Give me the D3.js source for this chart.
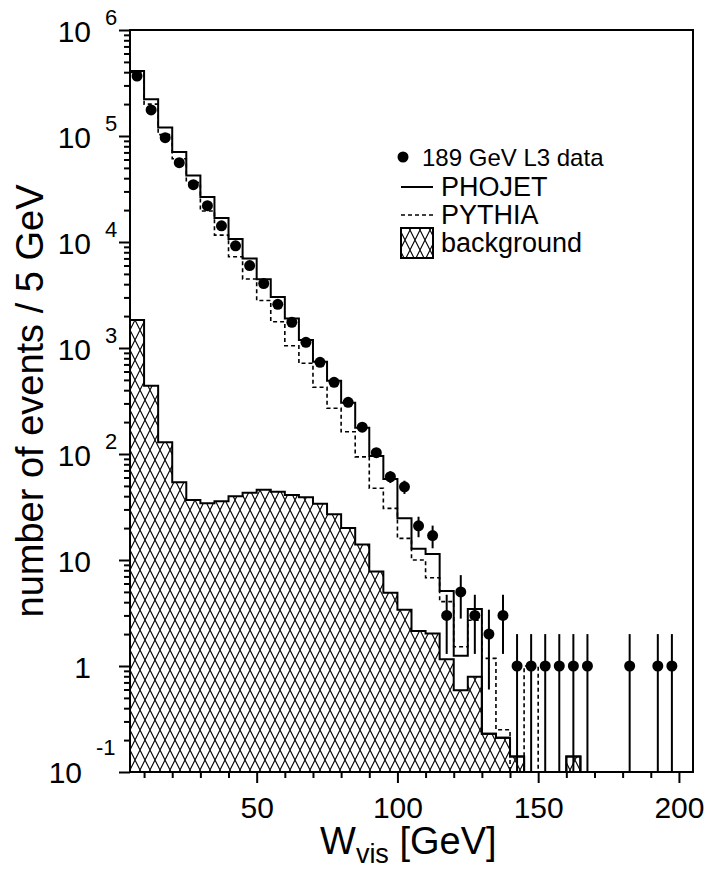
<!DOCTYPE html>
<html>
<head>
<meta charset="utf-8">
<script src="https://cdn.jsdelivr.net/npm/d3@7/dist/d3.min.js"></script>
<style>
  body { margin: 0; background: #fff; }
  text { font-family: "Liberation Sans", Arial, Helvetica, sans-serif; fill: #000; }
</style>
</head>
<body>
<script>
// lower edge of each 5 GeV bin
let binLow = [5, 10, 15, 20, 25, 30, 35, 40, 45, 50, 55, 60, 65, 70, 75, 80, 85, 90, 95, 100,
  105, 110, 115, 120, 125, 130, 135, 140, 145, 150, 155, 160, 165, 170, 175, 180, 185, 190, 195, 200];
let binWidth = 5;

// 189 GeV L3 data (events / bin) and their errors
let dataVals = [368000, 176000, 96400, 56000, 34700, 22000, 14200, 9200, 6000, 4060,
  2580, 1750, 1130, 733, 475, 307, 179, 103, 61, 49,
  21, 17, 3, 5, 3, 2, 3, 1, 1, 1,
  1, 1, 1, 0, 0, 1, 0, 1, 1, 0];
let dataErr = [600, 420, 310, 240, 186, 148, 119, 96, 77, 64,
  51, 42, 34, 27, 22, 18, 13, 10, 7.8, 7,
  4.6, 4.1, 1.7, 2.2, 1.7, 1.4, 1.7, 1, 1, 1,
  1, 1, 1, 0, 0, 1, 0, 1, 1, 0];

// PHOJET (solid)
let phojetVals = [410000, 222000, 120000, 70600, 42400, 26600, 16800, 10700, 7000, 4450,
  3030, 1900, 1190, 743, 492, 305, 177, 96, 58, 24.7,
  12.8, 11.4, 5.1, 1.25, 3.45, 0.23, 0.21, 0.14, 0, 0,
  0, 0.14, 0, 0, 0, 0, 0, 0, 0, 0];

// PYTHIA (dashed)
let pythiaVals = [398000, 200000, 103000, 61000, 36300, 19600, 11600, 7260, 4480, 2810,
  1770, 1050, 717, 426, 270, 162, 94, 47.5, 30.7, 16,
  10, 6.8, 4.05, 1.52, 2.7, 1.18, 0.25, 0, 1, 0,
  0, 0, 0, 0, 0, 0, 0, 0, 0, 0];

// background (hatched)
let bkgVals = [1840, 441, 129, 54, 36.8, 34.3, 35.8, 40, 43, 46,
  44, 41, 39, 34, 27, 20, 14, 7.8, 4.9, 3.4,
  2.14, 2.03, 1.16, 0.59, 0.79, 0.23, 0.21, 0.14, 0, 0,
  0, 0.14, 0, 0, 0, 0, 0, 0, 0, 0];

let xMajorTicks = [50, 100, 150, 200];
let yTickVals = [1e6, 1e5, 1e4, 1e3, 1e2, 10, 1, 0.1];
let yTickBase = ["10", "10", "10", "10", "10", "10", "1", "10"];
let yTickExp = ["6", "5", "4", "3", "2", "", "", "-1"];
let legendLabels = ["189 GeV L3 data", "PHOJET", "PYTHIA", "background"];

let margin = null,
  width = null,
  height = null;

let svg = null;
let x, y = null; // scales

main();

function main() {
  setupCanvasSize();
  appendSvg("body");
  setupXScale();
  setupYScale();
  addPattern();
  appendBackground();
  appendHistogram(pythiaVals, "4,3", 1.6);
  appendHistogram(phojetVals, null, 2);
  addDataPoints();
  appendXAxis();
  appendYAxis();
  addFrame();
  addLegend();
  addTitles();
}

function setupCanvasSize() {
  margin = { top: 30, left: 130, bottom: 99, right: 15 };
  width = 708 - margin.left - margin.right;
  height = 871 - margin.top - margin.bottom;
}

function appendSvg(domElement) {
  let root = d3.select(domElement).append("svg")
    .attr("width", width + margin.left + margin.right)
    .attr("height", height + margin.top + margin.bottom);
  root.append("defs");
  svg = root.append("g")
    .attr("transform", `translate(${margin.left}, ${margin.top})`);
}

function setupXScale() {
  x = d3.scaleLinear()
    .range([0, width])
    .domain([5, 205]);
}

function setupYScale() {
  y = d3.scaleLog()
    .range([height, 0])
    .domain([0.1, 1e6]);
}

// values below the axis floor sit on the frame
function yv(v) {
  return v > 0.1 ? y(v) : height;
}

function stepPoints(vals) {
  let pts = [[binLow[0], 0]];
  vals.forEach(function (v, i) { pts.push([binLow[i], v]); });
  pts.push([binLow[binLow.length - 1] + binWidth, 0]);
  return pts;
}

function addPattern() {
  let pat = d3.select("defs").append("pattern")
    .attr("id", "hatch")
    .attr("patternUnits", "userSpaceOnUse")
    .attr("width", 10)
    .attr("height", 20);
  pat.append("path")
    .attr("d", "M0,0L10,20M10,0L0,20M-10,0L0,20M20,0L10,20M0,0L-10,20M10,0L20,20")
    .attr("stroke", "#000")
    .attr("stroke-width", 1.1);
}

function appendBackground() {
  let pts = stepPoints(bkgVals);
  let area = d3.area()
    .curve(d3.curveStepAfter)
    .x(function (d) { return x(d[0]); })
    .y0(height)
    .y1(function (d) { return yv(d[1]); });
  svg.append("path")
    .datum(pts)
    .attr("d", area)
    .attr("fill", "url(#hatch)");
  appendHistogram(bkgVals, null, 2);
}

function appendHistogram(vals, dash, lw) {
  let line = d3.line()
    .curve(d3.curveStepAfter)
    .x(function (d) { return x(d[0]); })
    .y(function (d) { return yv(d[1]); });
  svg.append("path")
    .datum(stepPoints(vals))
    .attr("d", line)
    .attr("fill", "none")
    .attr("stroke", "#000")
    .attr("stroke-width", lw)
    .attr("stroke-dasharray", dash);
}

function addDataPoints() {
  let pts = dataVals.map(function (v, i) {
    return { c: binLow[i] + binWidth / 2, v: v, e: dataErr[i] };
  }).filter(function (d) { return d.v > 0; });

  svg.selectAll(".err")
    .data(pts)
    .enter()
    .append("line")
    .attr("class", "err")
    .attr("x1", function (d) { return x(d.c); })
    .attr("x2", function (d) { return x(d.c); })
    .attr("y1", function (d) { return y(d.v + d.e); })
    .attr("y2", function (d) { return yv(d.v - d.e); })
    .attr("stroke", "#000")
    .attr("stroke-width", 2);

  svg.selectAll(".pt")
    .data(pts)
    .enter()
    .append("circle")
    .attr("class", "pt")
    .attr("cx", function (d) { return x(d.c); })
    .attr("cy", function (d) { return y(d.v); })
    .attr("r", 5.5)
    .attr("fill", "#000");
}

function appendXAxis() {
  let minor = d3.range(10, 210, 10).filter(function (t) { return xMajorTicks.indexOf(t) < 0; });
  let gMinor = svg.append("g")
    .attr("transform", `translate(0, ${height})`)
    .call(d3.axisBottom(x).tickValues(minor).tickSize(6).tickFormat(""));
  let gMajor = svg.append("g")
    .attr("transform", `translate(0, ${height})`)
    .call(d3.axisBottom(x).tickValues(xMajorTicks).tickSize(11).tickPadding(14).tickFormat(d3.format("d")));
  [gMinor, gMajor].forEach(function (g) {
    g.select(".domain").remove();
    g.selectAll("line").attr("stroke-width", 2);
  });
  gMajor.selectAll("text")
    .style("font-size", "30px")
    .style("font-family", "'Liberation Sans', Arial, sans-serif")
    .attr("dy", "0.71em");
}

function appendYAxis() {
  let all = y.ticks();
  let minor = all.filter(function (t) {
    return Math.abs(Math.log10(t) - Math.round(Math.log10(t))) > 1e-6;
  });
  let gMinor = svg.append("g")
    .call(d3.axisLeft(y).tickValues(minor).tickSize(6).tickFormat(""));
  let gMajor = svg.append("g")
    .call(d3.axisLeft(y).tickValues(yTickVals).tickSize(11).tickFormat(""));
  [gMinor, gMajor].forEach(function (g) {
    g.select(".domain").remove();
    g.selectAll("line").attr("stroke-width", 2);
  });

  // "10" with exponent, as in the original
  yTickVals.forEach(function (v, i) {
    let low = yTickExp[i] === "-1";
    let baseX = (low ? 82 : 91) - margin.left;
    svg.append("text")
      .attr("x", baseX)
      .attr("y", y(v) + (low ? 11 : 12))
      .attr("text-anchor", "end")
      .style("font-size", "30px")
      .text(yTickBase[i]);
    if (yTickExp[i]) {
      svg.append("text")
        .attr("x", baseX + 14)
        .attr("y", y(v) + (low ? -17 : -5))
        .style("font-size", "22px")
        .text(yTickExp[i]);
    }
  });
}

function addFrame() {
  svg.append("rect")
    .attr("x", 0)
    .attr("y", 0)
    .attr("width", width)
    .attr("height", height)
    .attr("fill", "none")
    .attr("stroke", "#000")
    .attr("stroke-width", 2);
}

function addLegend() {
  let lx = 401 - margin.left;
  let rows = [157, 187, 215, 243].map(function (r) { return r - margin.top; });

  svg.append("circle")
    .attr("cx", lx + 2).attr("cy", rows[0]).attr("r", 5.5).attr("fill", "#000");
  svg.append("line")
    .attr("x1", lx).attr("x2", lx + 32).attr("y1", rows[1]).attr("y2", rows[1])
    .attr("stroke", "#000").attr("stroke-width", 2);
  svg.append("line")
    .attr("x1", lx).attr("x2", lx + 32).attr("y1", rows[2]).attr("y2", rows[2])
    .attr("stroke", "#000").attr("stroke-width", 1.6).attr("stroke-dasharray", "4,3");
  svg.append("rect")
    .attr("x", lx).attr("y", rows[3] - 15).attr("width", 32).attr("height", 30)
    .attr("fill", "url(#hatch)").attr("stroke", "#000").attr("stroke-width", 2);

  legendLabels.forEach(function (t, i) {
    svg.append("text")
      .attr("x", (i === 0 ? 422 : 441) - margin.left)
      .attr("y", rows[i] + 9)
      .style("font-size", i === 0 ? "24px" : "27px")
      .text(t);
  });
}

function addTitles() {
  // x title: W_vis [GeV]
  let xt = svg.append("text")
    .attr("x", 320 - margin.left)
    .attr("y", 854 - margin.top)
    .style("font-size", "38px");
  xt.append("tspan").text("W");
  xt.append("tspan").attr("dy", 9).style("font-size", "27px").text("vis");
  xt.append("tspan").attr("dy", -9).text(" [GeV]");

  svg.append("text")
    .attr("transform", `translate(${43 - margin.left}, ${401 - margin.top}) rotate(-90)`)
    .attr("text-anchor", "middle")
    .style("font-size", "38px")
    .text("number of events / 5 GeV");
}
</script>
</body>
</html>
